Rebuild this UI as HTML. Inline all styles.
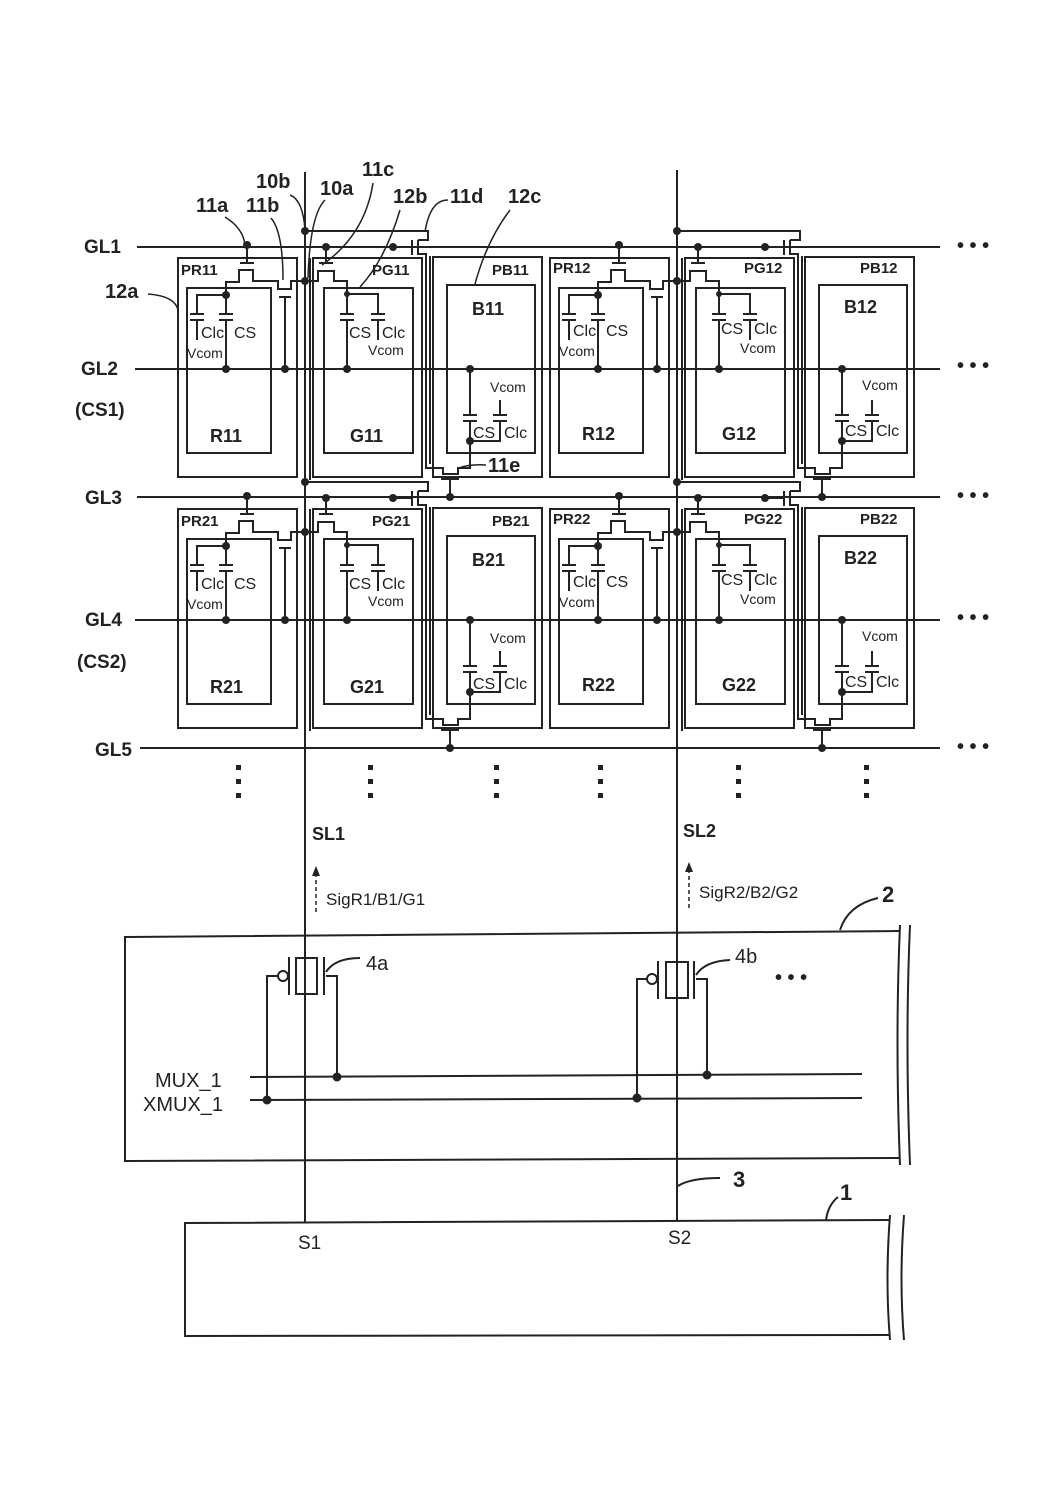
<!DOCTYPE html>
<html><head><meta charset="utf-8"><style>
body{margin:0;background:#fff}
svg{display:block}
text{font-family:"Liberation Sans",sans-serif;fill:#222}
.b{font-weight:bold}
</style></head><body>
<svg width="1055" height="1496" viewBox="0 0 1055 1496" xmlns="http://www.w3.org/2000/svg">
<defs>
<g id="cell" stroke="#222" stroke-width="2" fill="none">
 <rect x="178" y="258" width="119" height="219"/>
 <rect x="187" y="288" width="84" height="165"/>
 <rect x="313" y="258" width="109" height="219"/>
 <rect x="324" y="288" width="89" height="165"/>
 <rect x="433" y="257" width="109" height="220"/>
 <rect x="447" y="285" width="88" height="168"/>
 <line x1="310" y1="258" x2="310" y2="480"/>
 <!-- 11a -->
 <line x1="247" y1="245" x2="247" y2="263"/>
 <line x1="240" y1="263" x2="254" y2="263"/>
 <polyline points="226,295 226,282 239,282 239,270 253,270 253,281 278,281 278,289 291,289 291,281 305,281"/>
 <line x1="279" y1="297" x2="291" y2="297"/>
 <line x1="285" y1="297" x2="285" y2="369"/>
 <!-- PR caps -->
 <polyline points="226,295 197,295 197,314"/>
 <line x1="190" y1="314" x2="204" y2="314"/><line x1="190" y1="320" x2="204" y2="320"/>
 <line x1="197" y1="320" x2="197" y2="340"/>
 <line x1="226" y1="295" x2="226" y2="314"/>
 <line x1="219" y1="314" x2="233" y2="314"/><line x1="219" y1="320" x2="233" y2="320"/>
 <line x1="226" y1="320" x2="226" y2="369"/>
 <!-- 11c -->
 <line x1="326" y1="247" x2="326" y2="263"/>
 <line x1="319" y1="263" x2="333" y2="263"/>
 <polyline points="305,281 318,281 318,271 334,271 334,281 347,281 347,294 378,294 378,314"/>
 <line x1="340" y1="314" x2="354" y2="314"/><line x1="340" y1="320" x2="354" y2="320"/>
 <line x1="347" y1="294" x2="347" y2="314"/>
 <line x1="347" y1="320" x2="347" y2="369"/>
 <line x1="371" y1="314" x2="385" y2="314"/><line x1="371" y1="320" x2="385" y2="320"/>
 <line x1="378" y1="320" x2="378" y2="340"/>
 <!-- 11d -->
 <line x1="393" y1="247" x2="411" y2="247"/>
 <line x1="412" y1="240" x2="412" y2="255"/>
 <line x1="418" y1="240" x2="418" y2="255"/>
 <polyline points="305,231 428,231 428,240 418,240"/>
 <polyline points="418,254 426,254 426,468 443,468 443,474 458,474 458,468 470,468 470,441"/>
 <polyline points="430,256 430,464"/>
 <!-- 11e -->
 <line x1="441" y1="479" x2="459" y2="479"/>
 <line x1="450" y1="479" x2="450" y2="497"/>
 <!-- PB caps -->
 <line x1="470" y1="369" x2="470" y2="415"/>
 <line x1="463" y1="415" x2="477" y2="415"/><line x1="463" y1="421" x2="477" y2="421"/>
 <line x1="470" y1="421" x2="470" y2="441"/>
 <polyline points="470,441 500,441 500,421"/>
 <line x1="493" y1="415" x2="507" y2="415"/><line x1="493" y1="421" x2="507" y2="421"/>
 <line x1="500" y1="415" x2="500" y2="400"/>
 <g fill="#222" stroke="none">
  <circle cx="247" cy="245" r="4"/><circle cx="326" cy="247" r="4"/><circle cx="393" cy="247" r="4"/>
  <circle cx="305" cy="231" r="4"/><circle cx="305" cy="281" r="4"/>
  <circle cx="226" cy="295" r="4"/><circle cx="347" cy="294" r="3"/>
  <circle cx="226" cy="369" r="4"/><circle cx="285" cy="369" r="4"/><circle cx="347" cy="369" r="4"/><circle cx="470" cy="369" r="4"/>
  <circle cx="470" cy="441" r="4"/><circle cx="450" cy="497" r="4"/>
 </g>
</g>
</defs>

<g stroke="#222" stroke-width="2" fill="none">
 <line x1="137" y1="247" x2="940" y2="247"/>
 <line x1="135" y1="369" x2="940" y2="369"/>
 <line x1="137" y1="497" x2="940" y2="497"/>
 <line x1="135" y1="620" x2="940" y2="620"/>
 <line x1="140" y1="748" x2="940" y2="748"/>
 <line x1="305" y1="172" x2="305" y2="1222"/>
 <line x1="677" y1="170" x2="677" y2="1220"/>
</g>
<use href="#cell"/>
<use href="#cell" transform="translate(372,0)"/>
<use href="#cell" transform="translate(0,251)"/>
<use href="#cell" transform="translate(372,251)"/>

<g font-size="19" class="b">
 <text x="84" y="253" class="b">GL1</text>
 <text x="81" y="375" class="b">GL2</text>
 <text x="75" y="416" class="b">(CS1)</text>
 <text x="85" y="504" class="b">GL3</text>
 <text x="85" y="626" class="b">GL4</text>
 <text x="77" y="668" class="b">(CS2)</text>
 <text x="95" y="756" class="b">GL5</text>
</g>
<g font-size="20" class="b">
 <text x="105" y="298" class="b">12a</text>
 <text x="196" y="212" class="b">11a</text>
 <text x="246" y="212" class="b">11b</text>
 <text x="256" y="188" class="b">10b</text>
 <text x="320" y="195" class="b">10a</text>
 <text x="362" y="176" class="b">11c</text>
 <text x="393" y="203" class="b">12b</text>
 <text x="450" y="203" class="b">11d</text>
 <text x="508" y="203" class="b">12c</text>
 <text x="488" y="472" class="b">11e</text>
</g>
<g stroke="#222" stroke-width="1.5" fill="none">
 <path d="M148,294 Q175,296 178,310"/>
 <path d="M225,217 Q243,228 245,245"/>
 <path d="M271,218 Q283,232 283,280"/>
 <path d="M290,195 Q303,200 305,230"/>
 <path d="M325,200 Q310,215 308,278"/>
 <path d="M373,183 Q365,235 322,265"/>
 <path d="M400,210 Q385,260 360,287"/>
 <path d="M448,200 Q430,200 425,232"/>
 <path d="M510,210 Q487,240 475,284"/>
 <path d="M486,465 Q470,464 459,468"/>
</g>

<!-- cell text -->
<g id="t1">
 <text x="181" y="275" font-size="15" class="b">PR11</text>
 <text x="372" y="275" font-size="15" class="b">PG11</text>
 <text x="492" y="275" font-size="15" class="b">PB11</text>
 <text x="210" y="442" font-size="18" class="b">R11</text>
 <text x="350" y="442" font-size="18" class="b">G11</text>
 <text x="472" y="315" font-size="18" class="b">B11</text>
</g>
<g font-size="16">
 <text x="201" y="338">Clc</text><text x="234" y="338">CS</text><text x="187" y="358" font-size="14">Vcom</text>
 <text x="349" y="338">CS</text><text x="382" y="338">Clc</text><text x="368" y="355" font-size="14">Vcom</text>
 <text x="490" y="392" font-size="14">Vcom</text><text x="473" y="438">CS</text><text x="504" y="438">Clc</text>
</g>
<g transform="translate(372,0)">
 <text x="181" y="273" font-size="15" class="b">PR12</text>
 <text x="372" y="273" font-size="15" class="b">PG12</text>
 <text x="488" y="273" font-size="15" class="b">PB12</text>
 <text x="210" y="440" font-size="18" class="b">R12</text>
 <text x="350" y="440" font-size="18" class="b">G12</text>
 <text x="472" y="313" font-size="18" class="b">B12</text>
 <g font-size="16">
 <text x="201" y="336">Clc</text><text x="234" y="336">CS</text><text x="187" y="356" font-size="14">Vcom</text>
 <text x="349" y="334">CS</text><text x="382" y="334">Clc</text><text x="368" y="353" font-size="14">Vcom</text>
 <text x="490" y="390" font-size="14">Vcom</text><text x="473" y="436">CS</text><text x="504" y="436">Clc</text>
 </g>
</g>
<g transform="translate(0,251)">
 <text x="181" y="275" font-size="15" class="b">PR21</text>
 <text x="372" y="275" font-size="15" class="b">PG21</text>
 <text x="492" y="275" font-size="15" class="b">PB21</text>
 <text x="210" y="442" font-size="18" class="b">R21</text>
 <text x="350" y="442" font-size="18" class="b">G21</text>
 <text x="472" y="315" font-size="18" class="b">B21</text>
 <g font-size="16">
 <text x="201" y="338">Clc</text><text x="234" y="338">CS</text><text x="187" y="358" font-size="14">Vcom</text>
 <text x="349" y="338">CS</text><text x="382" y="338">Clc</text><text x="368" y="355" font-size="14">Vcom</text>
 <text x="490" y="392" font-size="14">Vcom</text><text x="473" y="438">CS</text><text x="504" y="438">Clc</text>
 </g>
</g>
<g transform="translate(372,251)">
 <text x="181" y="273" font-size="15" class="b">PR22</text>
 <text x="372" y="273" font-size="15" class="b">PG22</text>
 <text x="488" y="273" font-size="15" class="b">PB22</text>
 <text x="210" y="440" font-size="18" class="b">R22</text>
 <text x="350" y="440" font-size="18" class="b">G22</text>
 <text x="472" y="313" font-size="18" class="b">B22</text>
 <g font-size="16">
 <text x="201" y="336">Clc</text><text x="234" y="336">CS</text><text x="187" y="356" font-size="14">Vcom</text>
 <text x="349" y="334">CS</text><text x="382" y="334">Clc</text><text x="368" y="353" font-size="14">Vcom</text>
 <text x="490" y="390" font-size="14">Vcom</text><text x="473" y="436">CS</text><text x="504" y="436">Clc</text>
 </g>
</g>

<!-- ellipses -->
<g font-size="20" class="b">
 <text x="957" y="252">• • •</text><text x="957" y="372">• • •</text><text x="957" y="502">• • •</text>
 <text x="957" y="624">• • •</text><text x="957" y="753">• • •</text>
</g>
<g fill="#222">
 <rect x="236" y="765" width="5" height="5"/><rect x="236" y="779" width="5" height="5"/><rect x="236" y="793" width="5" height="5"/>
 <rect x="368" y="765" width="5" height="5"/><rect x="368" y="779" width="5" height="5"/><rect x="368" y="793" width="5" height="5"/>
 <rect x="494" y="765" width="5" height="5"/><rect x="494" y="779" width="5" height="5"/><rect x="494" y="793" width="5" height="5"/>
 <rect x="598" y="765" width="5" height="5"/><rect x="598" y="779" width="5" height="5"/><rect x="598" y="793" width="5" height="5"/>
 <rect x="736" y="765" width="5" height="5"/><rect x="736" y="779" width="5" height="5"/><rect x="736" y="793" width="5" height="5"/>
 <rect x="864" y="765" width="5" height="5"/><rect x="864" y="779" width="5" height="5"/><rect x="864" y="793" width="5" height="5"/>
</g>

<text x="312" y="840" font-size="18" class="b">SL1</text>
<text x="683" y="837" font-size="18" class="b">SL2</text>
<g stroke="#222" stroke-width="1.5" stroke-dasharray="4,3">
 <line x1="316" y1="912" x2="316" y2="876"/>
 <line x1="689" y1="908" x2="689" y2="872"/>
</g>
<polygon points="316,866 312,876 320,876" fill="#222"/>
<polygon points="689,862 685,872 693,872" fill="#222"/>
<text x="326" y="905" font-size="17">SigR1/B1/G1</text>
<text x="699" y="898" font-size="17">SigR2/B2/G2</text>

<!-- box 2 -->
<g stroke="#222" stroke-width="2" fill="none">
 <polyline points="900,931 125,937 125,1161 900,1158"/>
 <path d="M900,925 Q895,1040 900,1165"/>
 <path d="M910,925 Q905,1040 910,1165"/>
 <path d="M840,930 Q848,905 878,898"/>
 <!-- 4a -->
 <rect x="296" y="958" width="21" height="36"/>
 <line x1="289" y1="957" x2="289" y2="995"/>
 <circle cx="283" cy="976" r="5"/>
 <polyline points="278,976 267,976 267,1100"/>
 <line x1="324" y1="957" x2="324" y2="995"/>
 <polyline points="326,976 337,976 337,1077"/>
 <path d="M326,972 Q335,958 360,958"/>
 <!-- 4b -->
 <rect x="666" y="962" width="22" height="36"/>
 <line x1="658" y1="961" x2="658" y2="999"/>
 <circle cx="652" cy="979" r="5"/>
 <polyline points="647,979 637,979 637,1098"/>
 <line x1="694" y1="961" x2="694" y2="999"/>
 <polyline points="696,979 707,979 707,1075"/>
 <path d="M696,975 Q705,961 730,960"/>
 <line x1="250" y1="1077" x2="862" y2="1074"/>
 <line x1="250" y1="1100" x2="862" y2="1098"/>
 <!-- box 1 -->
 <polyline points="890,1220 185,1223 185,1336 890,1335"/>
 <path d="M890,1215 Q885,1280 890,1340"/>
 <path d="M904,1215 Q899,1280 904,1340"/>
 <path d="M678,1186 Q690,1178 720,1178"/>
 <path d="M826,1220 Q828,1205 838,1197"/>
</g>
<g fill="#222">
 <circle cx="267" cy="1100" r="4.5"/><circle cx="337" cy="1077" r="4.5"/>
 <circle cx="637" cy="1098" r="4.5"/><circle cx="707" cy="1075" r="4.5"/>
</g>
<text x="366" y="970" font-size="20">4a</text>
<text x="735" y="963" font-size="20">4b</text>
<text x="775" y="984" font-size="20" class="b">• • •</text>
<text x="155" y="1087" font-size="20">MUX_1</text>
<text x="143" y="1111" font-size="20">XMUX_1</text>
<text x="882" y="902" font-size="22" class="b">2</text>
<text x="733" y="1187" font-size="22" class="b">3</text>
<text x="840" y="1200" font-size="22" class="b">1</text>
<text x="298" y="1249" font-size="19">S1</text>
<text x="668" y="1244" font-size="19">S2</text>
</svg>
</body></html>
